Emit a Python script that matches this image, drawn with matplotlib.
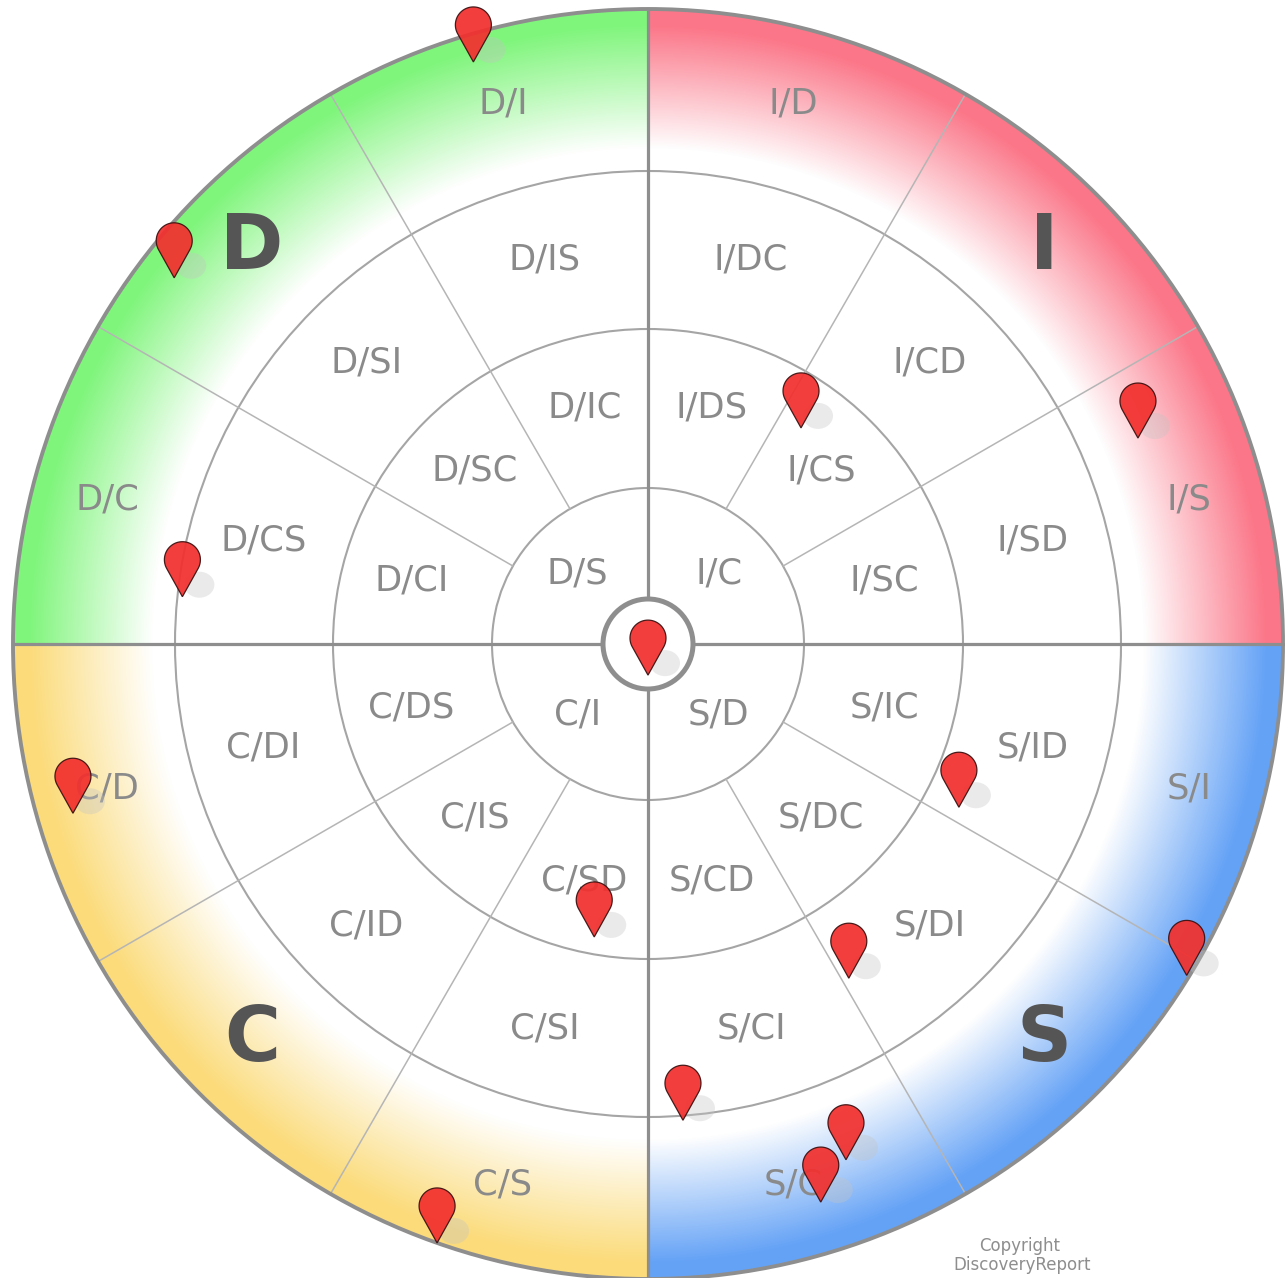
import numpy as np
import matplotlib
matplotlib.use('Agg')
import matplotlib.pyplot as plt
from matplotlib.patches import Circle, Ellipse, PathPatch
from matplotlib.path import Path
from matplotlib.colors import to_rgb

# 12 sectors of 30 deg, counter-clockwise starting at 3 o'clock
outer_labels = ['I/S', 'I', 'I/D', 'D/I', 'D', 'D/C', 'C/D', 'C', 'C/S', 'S/C', 'S', 'S/I']
ring3_labels = ['I/SD', 'I/CD', 'I/DC', 'D/IS', 'D/SI', 'D/CS', 'C/DI', 'C/ID', 'C/SI', 'S/CI', 'S/DI', 'S/ID']
ring2_labels = ['I/SC', 'I/CS', 'I/DS', 'D/IC', 'D/SC', 'D/CI', 'C/DS', 'C/IS', 'C/SD', 'S/CD', 'S/DC', 'S/IC']
inner_labels = ['I/C', 'D/S', 'C/I', 'S/D']
quadrant_colors = ['#fb7688', '#80f57c', '#fbdb7a', '#64a2f6']

# pin tips: angle (deg) and radius as fraction of the wheel radius
pin_angle = [106.7, 142.3, 174.2, 54.7, 22.8, 270.0, 196.4, 259.6, 250.6,
             332.3, 328.4, 301.0, 274.2, 291.0, 287.2]
pin_radius = [0.957, 0.943, 0.737, 0.417, 0.837, 0.049, 0.944, 0.469, 1.0,
              0.553, 0.996, 0.614, 0.752, 0.870, 0.920]

W, H = 1285, 1278
cx, cy = 648, 644
R = 635
ring_r = [45, 156, 315, 473, R]
label_r = [100, 245, 398, 560]


def polar(ang, r):
    a = np.radians(ang)
    return cx + r * np.cos(a), cy - r * np.sin(a)


fig = plt.figure(figsize=(W / 100, H / 100), dpi=100)
fig.patch.set_facecolor('white')
ax = fig.add_axes([0, 0, 1, 1])
ax.set_xlim(0, W)
ax.set_ylim(H, 0)
ax.axis('off')

# coloured outer band, fading to white toward the centre
yy, xx = np.mgrid[0:H, 0:W] + 0.5
rr = np.hypot(xx - cx, cy - yy)
th = np.degrees(np.arctan2(cy - yy, xx - cx)) % 360
q = (th // 90).astype(int)
rgb = np.array([to_rgb(c) for c in quadrant_colors])[q]
t = np.clip((rr - 495) / (618 - 495), 0, 1)
alpha = t * ((rr >= ring_r[3]) & (rr <= R + 1))
img = np.dstack([rgb, alpha])
ax.imshow(img, extent=(0, W, H, 0), interpolation='bilinear', zorder=0)

# rings and dividers
for r in ring_r[1:4]:
    ax.add_patch(Circle((cx, cy), r, fill=False, ec='#a5a5a5', lw=1.5, zorder=2))
for a in [30, 60, 120, 150, 210, 240, 300, 330]:
    x0, y0 = polar(a, ring_r[1])
    x1, y1 = polar(a, R)
    ax.plot([x0, x1], [y0, y1], color='#b5b5b5', lw=1.1, zorder=2)
ax.plot([cx - R, cx + R], [cy, cy], color='#8e8e8e', lw=2.3, zorder=3)
ax.plot([cx, cx], [cy - R, cy + R], color='#8e8e8e', lw=2.3, zorder=3)
ax.add_patch(Circle((cx, cy), R, fill=False, ec='#8e8e8e', lw=2.8, zorder=3))
ax.add_patch(Circle((cx, cy), ring_r[0], fc='white', ec='#8e8e8e', lw=3.6, zorder=4))

# labels
lab_kw = dict(ha='center', va='center', color='#8a8a8a', fontsize=25.5,
              family='DejaVu Sans', zorder=5)
for k in range(12):
    ang = 15 + 30 * k
    ax.text(*polar(ang, label_r[2]), ring3_labels[k], **lab_kw)
    ax.text(*polar(ang, label_r[1]), ring2_labels[k], **lab_kw)
    if k % 3 == 1:
        ax.text(*polar(ang, label_r[3]), outer_labels[k], ha='center', va='center',
                color='#555555', fontsize=55, fontweight='bold', zorder=5)
    else:
        ax.text(*polar(ang, label_r[3]), outer_labels[k], **lab_kw)
for k in range(4):
    ax.text(*polar(45 + 90 * k, label_r[0]), inner_labels[k], **lab_kw)

# map pins
head_r, head_d = 18, 37
beta = np.degrees(np.arccos(head_r / head_d))
arc = np.radians(np.linspace(90 + beta, 450 - beta, 60))
for ang, rad in zip(pin_angle, pin_radius):
    x, y = polar(ang, rad * R)
    ax.add_patch(Ellipse((x + 17, y - 12), 30, 26, fc='#c4c4c4', ec='none',
                         alpha=0.35, zorder=6))
    verts = [(x, y)] + [(x + head_r * np.cos(a), y - head_d + head_r * np.sin(a))
                        for a in arc] + [(x, y)]
    codes = [Path.MOVETO] + [Path.LINETO] * (len(verts) - 2) + [Path.CLOSEPOLY]
    ax.add_patch(PathPatch(Path(verts, codes), fc='#f2302e', ec='#3a1010',
                           lw=0.9, alpha=0.93, zorder=7))

ax.text(1020, 1246, 'Copyright', ha='center', va='center', color='#8e8e8e',
        fontsize=12, zorder=5)
ax.text(1022, 1265, 'DiscoveryReport', ha='center', va='center', color='#8e8e8e',
        fontsize=12, zorder=5)

plt.savefig('out.png', dpi=100, facecolor='white')
